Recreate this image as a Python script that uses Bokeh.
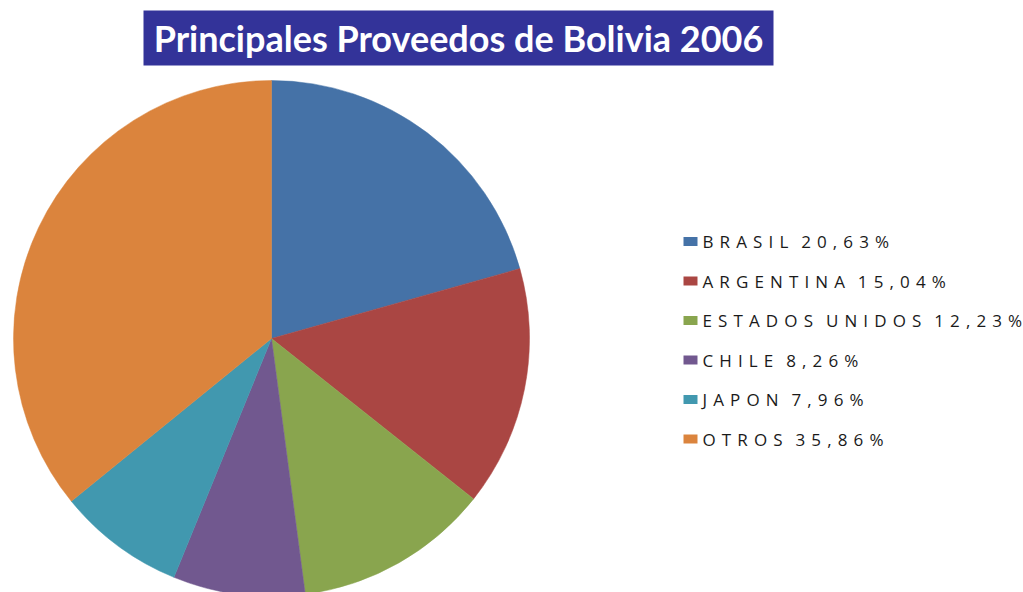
import math
from bokeh.plotting import figure
from bokeh.models import Range1d, ColumnDataSource
from bokeh.core.properties import value
from bokeh.embed import file_html
from bokeh.resources import INLINE

# ---- data ----
title_text = "Principales Proveedos de Bolivia 2006"
countries = ["BRASIL", "ARGENTINA", "ESTADOS UNIDOS", "CHILE", "JAPON", "OTROS"]
shares = [20.63, 15.04, 12.23, 8.26, 7.96, 35.86]
share_labels = ["20,63%", "15,04%", "12,23%", "8,26%", "7,96%", "35,86%"]
colors = ["#4572A7", "#AA4643", "#89A54E", "#71588F", "#4198AF", "#DB843D"]

W, H = 1023, 592

p = figure(width=W, height=H, output_backend="svg", toolbar_location=None,
           x_range=Range1d(0, W), y_range=Range1d(0, H),
           min_border=0, min_border_left=0, min_border_right=0,
           min_border_top=0, min_border_bottom=0)
p.axis.visible = False
p.grid.visible = False
p.outline_line_color = None
p.background_fill_color = "white"
p.border_fill_color = "white"

# ---- pie ----
cx, cy, r = 271, H - 338, 258
total = sum(shares)
starts, ends = [], []
acc = 0.0
for s in shares:
    starts.append(math.pi / 2 - 2 * math.pi * acc / total)
    acc += s
    ends.append(math.pi / 2 - 2 * math.pi * acc / total)
src = ColumnDataSource(dict(start=starts, end=ends, color=colors))
p.wedge(x=cx, y=cy, radius=r, start_angle="start", end_angle="end",
        direction="clock", fill_color="color", line_color="color",
        line_width=0.5, source=src)

# ---- title ----
p.quad(left=143, right=773, bottom=H - 65, top=H - 10,
       fill_color="#333399", line_color=None)
p.text(x=[458], y=[H - 37.5], text=[title_text], text_align="center",
       text_baseline="middle", text_color="white",
       text_font=value("Lato"), text_font_style="bold",
       text_font_size="36px")

# ---- legend (character-spaced labels, like the original) ----
LETTER_GAP = " \u200a"
WORD_GAP = "\u00a0\u2002"

def spaced(text):
    return WORD_GAP.join(LETTER_GAP.join(w) for w in text.split(" "))

labels = [spaced(c + " " + v) for c, v in zip(countries, share_labels)]
row0 = H - 241
step = 39.5
ys = [row0 - i * step for i in range(len(countries))]
lsrc = ColumnDataSource(dict(y=ys, label=labels, color=colors,
                             bot=[y - 4.5 for y in ys], top=[y + 4.5 for y in ys]))
p.quad(left=683, right=697, bottom="bot", top="top", fill_color="color",
       line_color=None, source=lsrc)
p.text(x=702, y="y", text="label", source=lsrc, text_align="left",
       text_baseline="middle", text_color="#1a1a1a",
       text_font=value("Open Sans"), text_font_size="17px")

open("out.html", "w").write(file_html(p, INLINE))
